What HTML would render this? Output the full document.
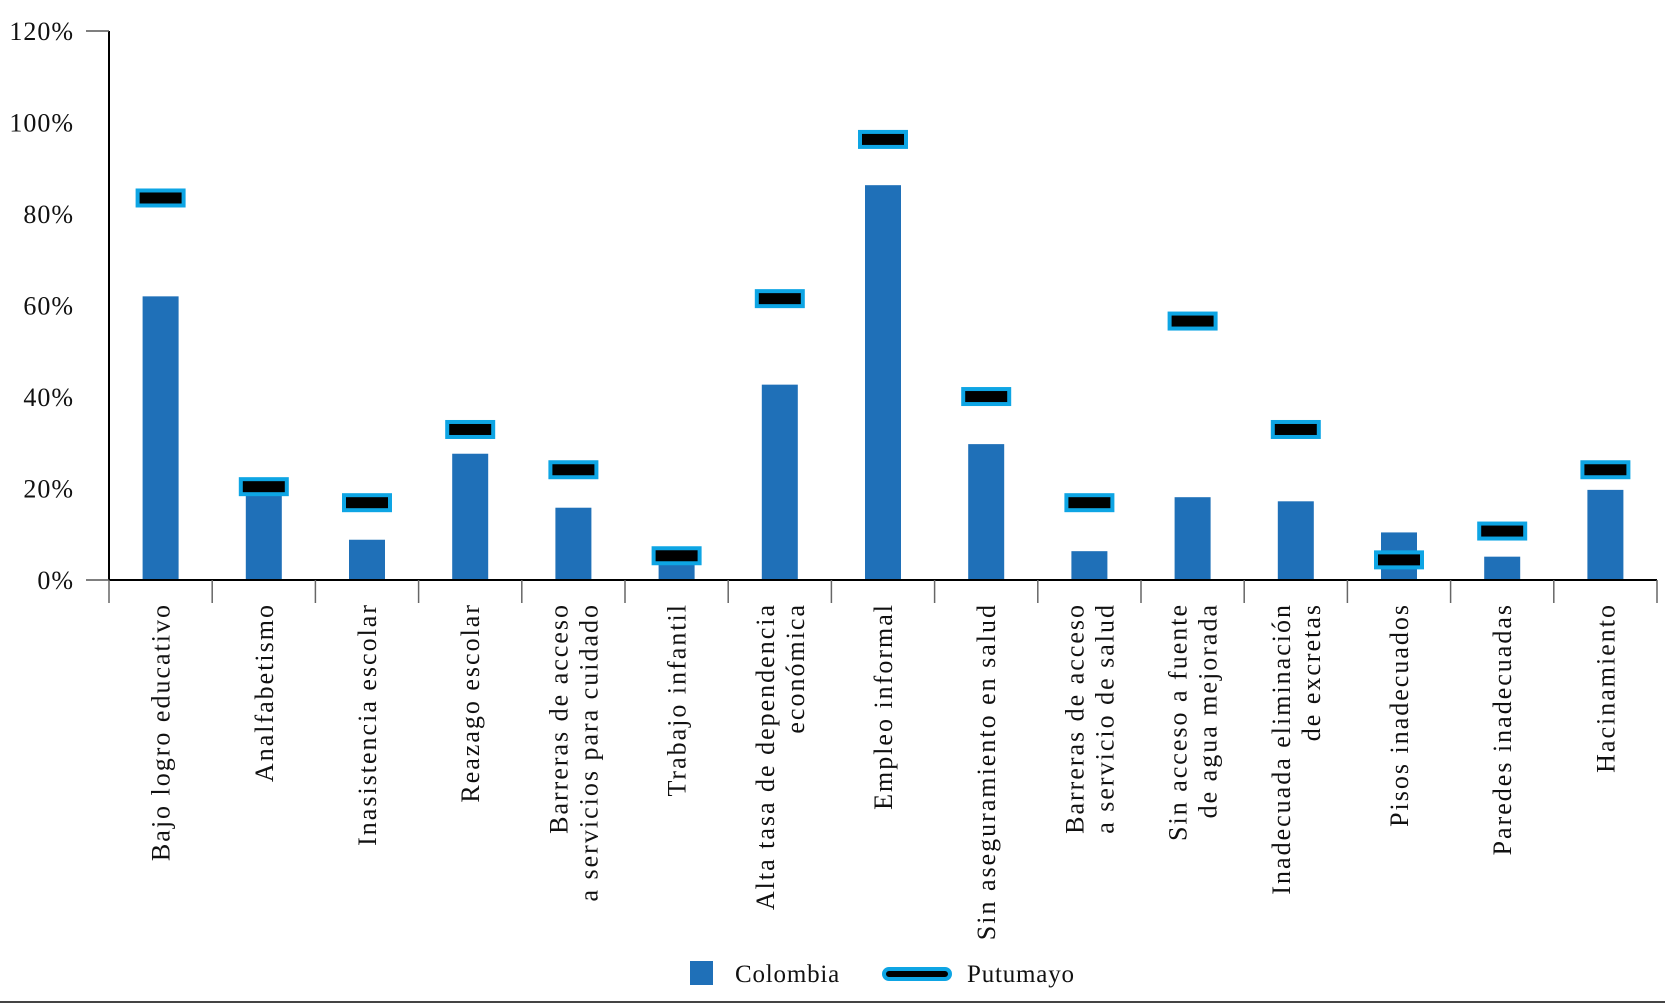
<!DOCTYPE html>
<html><head><meta charset="utf-8"><style>
body{margin:0;background:#fff;}
svg{display:block;font-family:"Liberation Serif",serif;}
</style></head><body>
<svg id="c" width="1665" height="1005" viewBox="0 0 1665 1005"></svg>
<script>
const categories=[["Bajo logro educativo"],["Analfabetismo"],["Inasistencia escolar"],["Reazago escolar"],["Barreras de acceso","a servicios para cuidado"],["Trabajo infantil"],["Alta tasa de dependencia","económica"],["Empleo informal"],["Sin aseguramiento en salud"],["Barreras de acceso","a servicio de salud"],["Sin acceso a fuente","de agua mejorada"],["Inadecuada eliminación","de excretas"],["Pisos inadecuados"],["Paredes inadecuadas"],["Hacinamiento"]];
const colombia=[62,18.5,8.8,27.6,15.8,3.7,42.7,86.3,29.7,6.3,18.1,17.2,10.4,5.1,19.7];
const putumayo=[83.5,20.4,16.9,32.9,24.1,5.3,61.5,96.3,40.1,16.9,56.6,32.9,4.4,10.7,24.1];
const yTicks=[0,20,40,60,80,100,120];
const NS="http://www.w3.org/2000/svg";
const svg=document.getElementById('c');
const x0=109,step=103.2,yBase=580,yTop=31;
const y=v=>yBase-(v/120)*(yBase-yTop);
const cx=i=>x0+step*(i+0.5);
function mk(t,a,p){const e=document.createElementNS(NS,t);for(const k in a)e.setAttribute(k,a[k]);(p||svg).appendChild(e);return e;}
let ax=mk('line',{x1:x0,y1:yTop,x2:x0,y2:yBase,stroke:'#000','stroke-width':2});


let t1=mk('line',{x1:86,y1:yTop,x2:x0,y2:yTop,stroke:'#555','stroke-width':1.5});


let t0=mk('line',{x1:86,y1:yBase,x2:x0,y2:yBase,stroke:'#555','stroke-width':1.5});


yTicks.forEach(v=>{const e=mk('text',{x:74,y:y(v)+9,'text-anchor':'end','font-size':26,'letter-spacing':1,fill:'#111'});e.textContent=v+'%';

});
colombia.forEach((v,i)=>{const e=mk('rect',{x:cx(i)-18,y:y(v),width:36,height:yBase-y(v),fill:'#1f70b8'});

});
let xa=mk('line',{x1:x0,y1:yBase,x2:x0+step*15,y2:yBase,stroke:'#000','stroke-width':2});


for(let i=0;i<=15;i++){const e=mk('line',{x1:x0+step*i,y1:yBase,x2:x0+step*i,y2:603,stroke:'#666','stroke-width':1.5});

}
putumayo.forEach((v,i)=>{const e=mk('rect',{x:cx(i)-23,y:y(v)-7.5,width:46,height:15,fill:'#000',stroke:'#0ea5e4','stroke-width':4});

});
categories.forEach((lines,i)=>{const g=mk('g',{transform:`translate(${cx(i)},603) rotate(-90)`});


const n=lines.length;lines.forEach((s,j)=>{const e=mk('text',{x:0,y:9+(j-(n-1)/2)*30,'text-anchor':'end','font-size':26,'letter-spacing':2,fill:'#111'},g);e.textContent=s;});});
let ls=mk('rect',{x:690,y:961,width:23,height:24,fill:'#1f70b8'});


let lt=mk('text',{x:735,y:982,'font-size':25,'letter-spacing':0.8,fill:'#111'});lt.textContent='Colombia';


let lp=mk('rect',{x:884,y:969,width:66,height:10,rx:5,fill:'#000',stroke:'#0ea5e4','stroke-width':4});


let lpt=mk('text',{x:967,y:982,'font-size':25,'letter-spacing':0.8,fill:'#111'});lpt.textContent='Putumayo';


let bl=mk('line',{x1:0,y1:1002,x2:1665,y2:1002,stroke:'#444','stroke-width':2});


</script>
</body></html>
